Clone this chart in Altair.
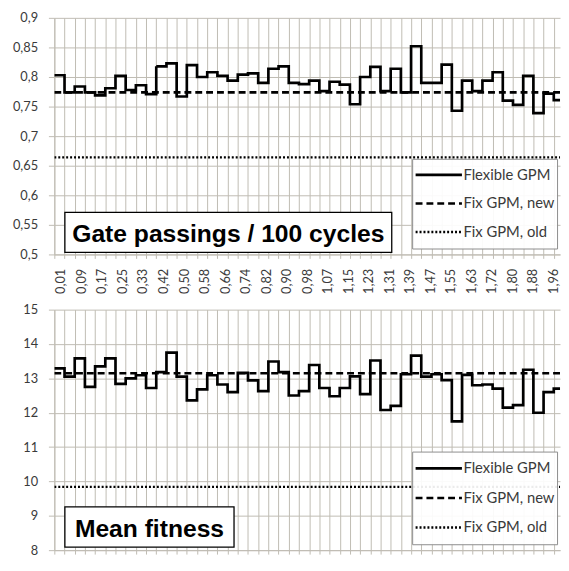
import altair as alt
import pandas as pd

# ---------------- data ----------------
x_labels = ['0,01', '0,09', '0,17', '0,25', '0,33', '0,42', '0,50', '0,58', '0,66',
            '0,74', '0,82', '0,90', '0,98', '1,07', '1,15', '1,23', '1,31', '1,39',
            '1,47', '1,55', '1,63', '1,72', '1,80', '1,88', '1,96']

series_names = ["Flexible GPM", "Fix GPM, new", "Fix GPM, old"]

gate_flexible = [0.803, 0.774, 0.784, 0.774, 0.769, 0.781, 0.802, 0.778, 0.786, 0.771,
                 0.818, 0.823, 0.767, 0.820, 0.800, 0.808, 0.802, 0.794, 0.804, 0.806,
                 0.790, 0.814, 0.818, 0.790, 0.788, 0.794, 0.776, 0.792, 0.787, 0.754,
                 0.800, 0.817, 0.776, 0.814, 0.774, 0.852, 0.790, 0.790, 0.821, 0.743,
                 0.794, 0.776, 0.794, 0.808, 0.760, 0.753, 0.802, 0.739, 0.772, 0.761]
gate_fix_new = 0.774
gate_fix_old = 0.664

fit_flexible = [13.29, 13.05, 13.58, 12.75, 13.35, 13.58, 12.84, 13.00, 13.09, 12.72,
                13.18, 13.75, 13.05, 12.36, 12.68, 13.09, 12.82, 12.60, 13.16, 12.94,
                12.63, 13.49, 13.18, 12.50, 12.63, 13.39, 12.72, 12.48, 12.72, 13.06,
                12.54, 13.52, 12.08, 12.20, 13.12, 13.66, 13.05, 13.12, 12.95, 11.75,
                13.10, 12.80, 12.82, 12.70, 12.15, 12.22, 13.25, 12.00, 12.60, 12.70]
fit_fix_new = 13.15
fit_fix_old = 9.84

gate_ticks = [0.5, 0.55, 0.6, 0.65, 0.7, 0.75, 0.8, 0.85, 0.9]
fit_ticks = [8, 9, 10, 11, 12, 13, 14, 15]

panel_titles = ["Gate passings / 100 cycles", "Mean fitness"]

# ---------------- helpers ----------------
N = len(gate_flexible)
UNIT = 10.34            # pixels per x step
PLOT_W = 513
X_MAX = PLOT_W / UNIT
GRID = "#bfbcb3"
FONT = "Lato"
TFONT = "Liberation Sans"
TXT = "#3a3a3a"


def table(flex, new, old):
    rows = [{"x": i, "y": v, "s": series_names[0]} for i, v in enumerate(flex)]
    rows.append({"x": N, "y": flex[-1], "s": series_names[0]})
    for xx in (0, N):
        rows.append({"x": xx, "y": new, "s": series_names[1]})
        rows.append({"x": xx, "y": old, "s": series_names[2]})
    return pd.DataFrame(rows)


label_pos = [0.65 + 2.0138 * k for k in range(len(x_labels))]
arr = "[" + ",".join("'" + l + "'" for l in x_labels) + "]"
label_expr = "datum.value % 1 == 0 ? '' : " + arr + "[floor(datum.value / 2)]"
int_only = {"condition": {"test": "datum.value % 1 != 0", "value": 0}, "value": 1}


def x_axis(with_labels):
    common = dict(title=None, gridColor=GRID, gridOpacity=int_only, gridWidth=1,
                  tickColor=GRID, tickOpacity=int_only, tickSize=4, domainColor=GRID)
    if with_labels:
        return alt.Axis(values=list(range(N)) + label_pos, labelExpr=label_expr,
                        labelAngle=270, labelAlign="right", labelBaseline="middle",
                        labelPadding=10, labelFont=FONT, labelFontSize=13,
                        labelColor=TXT, labelOverlap=False, labelFlush=False,
                        labelBound=False, minExtent=44, maxExtent=44, **common)
    return alt.Axis(values=list(range(N)), labels=False, minExtent=4, maxExtent=4,
                    **common)


def y_axis(ticks, fmt):
    return alt.Axis(values=ticks, title=None, gridColor=GRID, gridWidth=1,
                    tickColor=GRID, tickSize=6, domainColor=GRID,
                    labelExpr="replace(format(datum.value, '" + fmt + "'), '.', ',')",
                    labelFont=FONT, labelFontSize=13, labelColor=TXT,
                    labelPadding=11, minExtent=47, maxExtent=47)


def panel(flex, new, old, ticks, fmt, title, height, legend_y, row_h, box, base, first):
    df = table(flex, new, old)
    lines = alt.Chart(df).mark_line(interpolate="step-after", color="black", clip=True,
                                    strokeJoin="miter", strokeCap="butt").encode(
        x=alt.X("x:Q", scale=alt.Scale(domain=[0, X_MAX], nice=False, zero=False),
                axis=x_axis(first)),
        y=alt.Y("y:Q", scale=alt.Scale(domain=[ticks[0], ticks[-1]], nice=False, zero=False),
                axis=y_axis(ticks, fmt)),
        strokeDash=alt.StrokeDash("s:N", scale=alt.Scale(domain=series_names,
                                                        range=[[1, 0], [7, 4], [2, 2]]),
                                  legend=alt.Legend(orient="none", legendX=363, legendY=legend_y,
                                                    title=None, fillColor="rgba(255,255,255,0.92)",
                                                    strokeColor="#8c8c8c", padding=2,
                                                    symbolType="stroke", symbolSize=2209,
                                                    symbolStrokeColor="black", symbolOffset=0,
                                                    labelFont=FONT, labelFontSize=15,
                                                    labelColor=TXT, labelOffset=0,
                                                    clipHeight=row_h, rowPadding=0)),
        strokeWidth=alt.StrokeWidth("s:N", scale=alt.Scale(domain=series_names,
                                                          range=[2.7, 2.4, 2.1]),
                                    legend=None),
        detail="s:N",
    )
    tdf = pd.DataFrame({"t": [title]})
    x0, x1, y0, y1 = box
    rect = alt.Chart(tdf).mark_rect(fill="white", stroke="black", strokeWidth=1.3).encode(
        x=alt.value(x0), x2=alt.value(x1), y=alt.value(y0), y2=alt.value(y1))
    text = alt.Chart(tdf).mark_text(font=TFONT, fontWeight="bold", fontSize=25,
                                    color="black", align="center",
                                    baseline="alphabetic").encode(
        x=alt.value((x0 + x1) / 2), y=alt.value(base), text="t:N")
    return alt.layer(lines, rect, text).properties(width=PLOT_W, height=height)


top = panel(gate_flexible, gate_fix_new, gate_fix_old, gate_ticks, ".2~f",
            panel_titles[0], 240, 143, 28.5, (10.7, 342.3, 197.3, 238), 227.3, True)
bottom = panel(fit_flexible, fit_fix_new, fit_fix_old, fit_ticks, "d",
               panel_titles[1], 244, 144, 30, (10.7, 182.3, 200, 241), 231, False)

chart = alt.vconcat(top, bottom, spacing=6).resolve_scale(
    x="independent", y="independent", strokeDash="independent", strokeWidth="independent"
).resolve_legend(strokeDash="independent", strokeWidth="independent").properties(
    padding={"left": 0, "top": 0, "right": 0, "bottom": 0}
).configure_view(strokeWidth=0)

chart.save("out.html", embed_options={"renderer": "svg", "actions": False})
